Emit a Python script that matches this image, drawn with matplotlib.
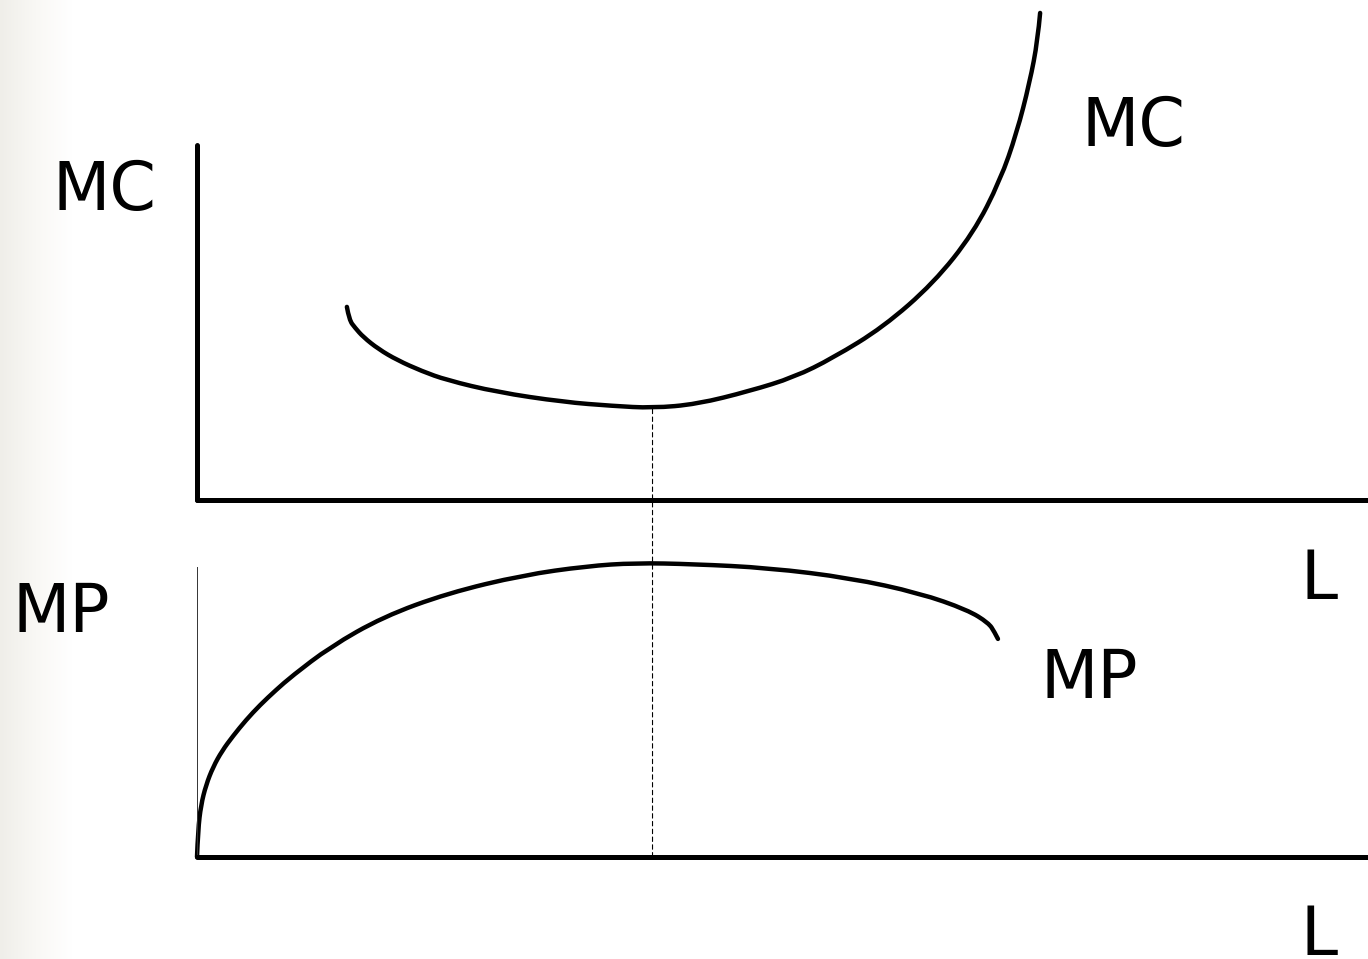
import numpy as np
import matplotlib
matplotlib.use("Agg")
import matplotlib.pyplot as plt
from matplotlib.patches import ConnectionPatch, PathPatch
from matplotlib.path import Path

# Marginal cost curve (top panel)
mc_L = [1.28, 1.30, 1.35, 1.42, 1.55, 1.71, 1.92, 2.13, 2.56, 3.13, 3.55, 3.89,
        4.27, 4.72, 5.10, 5.43, 5.86, 6.29, 6.63, 6.86, 7.00, 7.11, 7.18, 7.20]
mc_val = [5.44, 5.07, 4.85, 4.59, 4.25, 3.94, 3.63, 3.38, 3.04, 2.76, 2.65, 2.59,
          2.70, 3.07, 3.46, 4.00, 4.87, 6.11, 7.52, 9.01, 10.34, 11.75, 12.96, 13.72]

# Marginal product curve (bottom panel)
mp_L = [0.0, 0.009, 0.034, 0.077, 0.137, 0.214, 0.307, 0.418, 0.538, 0.675, 0.811,
        1.136, 1.588, 2.143, 2.784, 3.33, 3.74, 4.24, 4.88, 5.58, 6.17, 6.58,
        6.76, 6.81, 6.84]
mp_val = [0.0, 0.93, 1.79, 2.48, 3.10, 3.66, 4.17, 4.72, 5.24, 5.76, 6.24,
          7.24, 8.28, 9.10, 9.72, 10.03, 10.14, 10.10, 9.97, 9.62, 9.10, 8.52,
          8.07, 7.76, 7.52]

# labels
axis_labels = {"mc_y": "MC", "mc_curve": "MC", "mp_y": "MP", "mp_curve": "MP", "x": "L"}

W, H = 1368, 959
fig = plt.figure(figsize=(W / 100, H / 100), dpi=100)


def px(x, y):
    # pixel position -> figure fraction
    return x / W, 1 - y / H


def smooth_curve(ax, xs, ys):
    # quadratic bezier through the midpoints, read points act as control points
    verts = [(xs[0], ys[0])]
    codes = [Path.MOVETO]
    for i in range(1, len(xs) - 1):
        mid = ((xs[i] + xs[i + 1]) / 2, (ys[i] + ys[i + 1]) / 2)
        if i == len(xs) - 2:
            mid = (xs[-1], ys[-1])
        verts += [(xs[i], ys[i]), mid]
        codes += [Path.CURVE3, Path.CURVE3]
    patch = PathPatch(Path(verts, codes), fill=False, edgecolor="black", lw=3.2,
                      capstyle="round", joinstyle="round", clip_on=False)
    ax.add_patch(patch)


# light gradient strip on the left edge
bg = fig.add_axes([0, 0, 1, 1], zorder=-1)
bg.axis("off")
grad = np.linspace(0, 1, 256).reshape(1, -1)
cmap = matplotlib.colors.LinearSegmentedColormap.from_list("strip", ["#efeee9", "#f9f8f5", "#ffffff"])
bg.imshow(grad, cmap=cmap, extent=[0, 72 / W, 0, 1], aspect="auto")
bg.set_xlim(0, 1)
bg.set_ylim(0, 1)

# top panel: MC
ax_t = fig.add_axes([197 / W, 1 - 500 / H, 1 - 197 / W, 355 / H])
# bottom panel: MP
ax_b = fig.add_axes([197 / W, 1 - 857 / H, 1 - 197 / W, 290 / H])

for ax in (ax_t, ax_b):
    ax.set_xlim(0, 10)
    ax.set_ylim(0, 10)
    ax.set_xticks([])
    ax.set_yticks([])
    ax.patch.set_alpha(0)
    ax.spines["top"].set_visible(False)
    ax.spines["right"].set_visible(False)
    ax.spines["bottom"].set_linewidth(3.6)
    ax.spines["bottom"].set_capstyle("round")

ax_t.spines["left"].set_linewidth(3.6)
ax_t.spines["left"].set_capstyle("round")
ax_b.spines["left"].set_linewidth(0.7)
ax_b.spines["left"].set_color("#333333")

smooth_curve(ax_t, mc_L, mc_val)
smooth_curve(ax_b, mp_L, mp_val)

# dashed guide from the MC minimum down to the L axis of the MP panel
i_min = int(np.argmin(mc_val))
guide = ConnectionPatch(xyA=(mc_L[i_min], 0), coordsA=ax_b.transData,
                        xyB=(mc_L[i_min], mc_val[i_min]), coordsB=ax_t.transData,
                        color="black", lw=0.8, linestyle=(0, (4, 3)))
fig.add_artist(guide)

fs = 48
fig.text(*px(104, 210), axis_labels["mc_y"], fontsize=fs, ha="center", va="baseline")
fig.text(*px(1133, 146), axis_labels["mc_curve"], fontsize=fs, ha="center", va="baseline")
fig.text(*px(61, 632), axis_labels["mp_y"], fontsize=fs, ha="center", va="baseline")
fig.text(*px(1089, 698), axis_labels["mp_curve"], fontsize=fs, ha="center", va="baseline")
fig.text(*px(1319, 599), axis_labels["x"], fontsize=fs, ha="center", va="baseline")
fig.text(*px(1319, 955), axis_labels["x"], fontsize=fs, ha="center", va="baseline")

fig.savefig("out.png", dpi=100)
